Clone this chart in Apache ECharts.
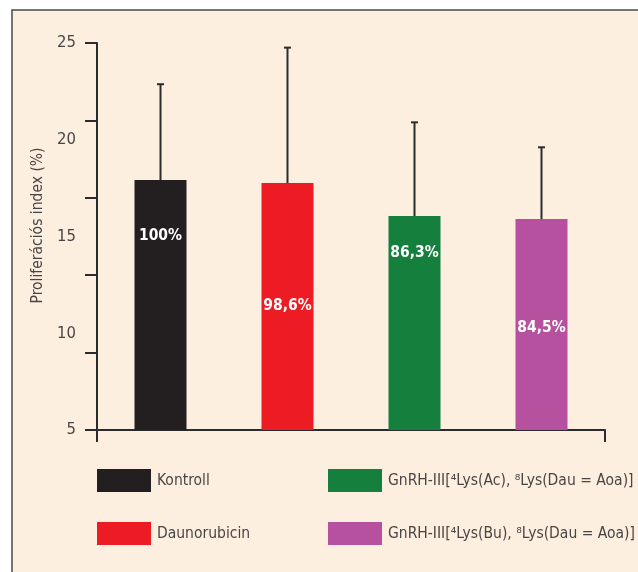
<!DOCTYPE html>
<html>
<head>
<meta charset="utf-8">
<script src="https://cdn.jsdelivr.net/npm/echarts@6/dist/echarts.min.js"></script>
<style>
html,body{margin:0;padding:0;background:#fff;}
#c{width:638px;height:572px;}
</style>
</head>
<body>
<div id="c"></div>
<script>
// ---- data ----
const categories = ['Kontroll', 'Daunorubicin', 'GnRH-III[⁴Lys(Ac), ⁸Lys(Dau = Aoa)]', 'GnRH-III[⁴Lys(Bu), ⁸Lys(Dau = Aoa)]'];
const barValues = [17.92, 17.76, 16.06, 15.90];
const errorTops = [22.87, 24.76, 20.90, 19.61];
const barLabels = ['100%', '98,6%', '86,3%', '84,5%'];
const yLabelValues = [5, 10, 15, 20, 25];
const yTickValues = [5, 9, 13, 17, 21, 25];

// ---- styles ----
const colors = ['#231f20', '#ed1c24', '#157f3e', '#b5519f'];
const labelOffsets = [43, 110, 24, 96];
const FONT = '"Liberation Sans Narrow", "DejaVu Sans Condensed", "Roboto Condensed", sans-serif';
const axisColor = '#2b2b2b';
const textColor = '#4a4545';

const barSeries = categories.map((name, i) => ({
  name: name,
  type: 'bar',
  barWidth: 52,
  barGap: '-100%',
  itemStyle: { color: colors[i] },
  label: {
    show: true,
    position: 'insideTop',
    offset: [0, labelOffsets[i]],
    formatter: () => barLabels[i],
    color: '#fff',
    fontFamily: FONT,
    fontWeight: 'bold',
    fontSize: 15.5
  },
  data: categories.map((c, j) => (j === i ? barValues[i] : '-')),
  z: 2
}));

const errorSeries = {
  type: 'custom',
  z: 3,
  renderItem: function (params, api) {
    const base = api.coord([api.value(0), api.value(1)]);
    const top = api.coord([api.value(0), api.value(2)]);
    const st = { stroke: axisColor, lineWidth: 2 };
    return {
      type: 'group',
      children: [
        { type: 'line', shape: { x1: base[0], y1: base[1], x2: top[0], y2: top[1] }, style: st },
        { type: 'line', shape: { x1: top[0] - 3.5, y1: top[1], x2: top[0] + 3.5, y2: top[1] }, style: st }
      ]
    };
  },
  data: categories.map((c, i) => [i, barValues[i], errorTops[i]])
};

const legendCommon = {
  orient: 'vertical',
  padding: 0,
  icon: 'rect', itemWidth: 54, itemHeight: 23, itemGap: 30,
  selectedMode: false,
  textStyle: { fontFamily: FONT, fontSize: 15.5, color: textColor, padding: [0, 0, 0, 1] }
};

const chart = echarts.init(document.getElementById('c'), null, { renderer: 'canvas' });
chart.setOption({
  backgroundColor: '#fff',
  animation: false,
  graphic: [{
    type: 'rect',
    z: -10,
    silent: true,
    shape: { x: 12, y: 10, width: 700, height: 700 },
    style: { fill: '#fdefdf', stroke: '#4a4a4a', lineWidth: 1.5 }
  }],
  grid: { left: 97, right: 33, top: 43, bottom: 142 },
  legend: [
    Object.assign({ data: [categories[0], categories[1]], left: 97, top: 469 }, legendCommon),
    Object.assign({ data: [categories[2], categories[3]], left: 328, top: 469 }, legendCommon)
  ],
  xAxis: [
    {
      type: 'category',
      data: categories,
      boundaryGap: true,
      axisLine: { lineStyle: { color: axisColor, width: 2 } },
      axisTick: { alignWithLabel: true, length: 12, lineStyle: { color: axisColor, width: 2 } },
      axisLabel: { show: false }
    },
    {
      type: 'category',
      data: categories,
      position: 'bottom',
      boundaryGap: true,
      axisLine: { show: false },
      axisTick: { show: true, length: 12, interval: (idx) => idx === 0, lineStyle: { color: axisColor, width: 2 } },
      axisLabel: { show: false }
    }
  ],
  yAxis: {
    type: 'value',
    min: 5,
    max: 25,
    name: 'Proliferációs index (%)',
    nameLocation: 'middle',
    nameGap: 49,
    nameTextStyle: { fontFamily: FONT, fontSize: 15.5, color: textColor, padding: [0, 0, 0, 22] },
    axisLine: { show: true, lineStyle: { color: axisColor, width: 2 } },
    axisTick: { show: true, length: 12, customValues: yTickValues, lineStyle: { color: axisColor, width: 2 } },
    axisLabel: { customValues: yLabelValues, margin: 21, fontFamily: FONT, fontSize: 16.5, color: textColor },
    splitLine: { show: false }
  },
  series: barSeries.concat([errorSeries])
});
</script>
</body>
</html>
